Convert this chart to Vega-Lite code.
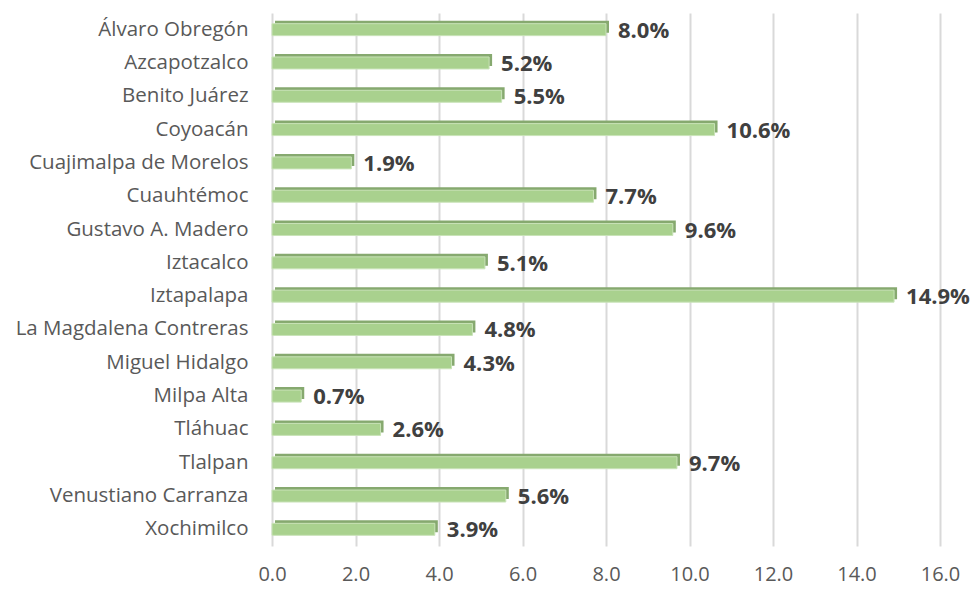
{
  "$schema": "https://vega.github.io/schema/vega-lite/v6.json",
  "autosize": {"type": "none"},
  "width": 668,
  "height": 533,
  "padding": {"left": 272, "top": 13, "right": 38, "bottom": 43},
  "background": "#ffffff",
  "config": {"view": {"stroke": null}, "font": "Open Sans"},
  "data": {"values": [
    {"alcaldia": "Álvaro Obregón", "pct": 8.0},
    {"alcaldia": "Azcapotzalco", "pct": 5.2},
    {"alcaldia": "Benito Juárez", "pct": 5.5},
    {"alcaldia": "Coyoacán", "pct": 10.6},
    {"alcaldia": "Cuajimalpa de Morelos", "pct": 1.9},
    {"alcaldia": "Cuauhtémoc", "pct": 7.7},
    {"alcaldia": "Gustavo A. Madero", "pct": 9.6},
    {"alcaldia": "Iztacalco", "pct": 5.1},
    {"alcaldia": "Iztapalapa", "pct": 14.9},
    {"alcaldia": "La Magdalena Contreras", "pct": 4.8},
    {"alcaldia": "Miguel Hidalgo", "pct": 4.3},
    {"alcaldia": "Milpa Alta", "pct": 0.7},
    {"alcaldia": "Tláhuac", "pct": 2.6},
    {"alcaldia": "Tlalpan", "pct": 9.7},
    {"alcaldia": "Venustiano Carranza", "pct": 5.6},
    {"alcaldia": "Xochimilco", "pct": 3.9}
  ]},
  "transform": [{"calculate": "format(datum.pct, '.1f') + '%'", "as": "label"}],
  "encoding": {
    "y": {
      "field": "alcaldia", "type": "nominal", "sort": null,
      "scale": {"paddingInner": 0.64, "paddingOuter": 0.32},
      "axis": {"title": null, "domain": false, "ticks": false, "labelPadding": 24,
               "labelFontSize": 20.5, "labelColor": "#595959", "labelFont": "Open Sans", "labelLimit": 300}
    },
    "x": {
      "field": "pct", "type": "quantitative",
      "scale": {"domain": [0, 16], "nice": false, "zero": true},
      "axis": {"title": null, "values": [0, 2, 4, 6, 8, 10, 12, 14, 16], "format": ".1f",
               "domain": false, "ticks": false, "labelPadding": 18, "labelFlush": false,
               "labelFontSize": 20, "labelColor": "#595959", "labelFont": "Open Sans",
               "grid": true, "gridColor": "#d9d9d9", "gridWidth": 2}
    }
  },
  "layer": [
    {"mark": {"type": "bar", "color": "#86a96f", "xOffset": 3, "yOffset": -3}},
    {"mark": {"type": "bar", "color": "#a9d18e", "stroke": "#c9e3b8", "strokeWidth": 1}},
    {"mark": {"type": "text", "align": "left", "baseline": "middle", "dx": 12, "dy": 1,
              "fontSize": 22, "fontWeight": "bold", "color": "#404040", "font": "Open Sans"},
     "encoding": {"text": {"field": "label"}}}
  ]
}
